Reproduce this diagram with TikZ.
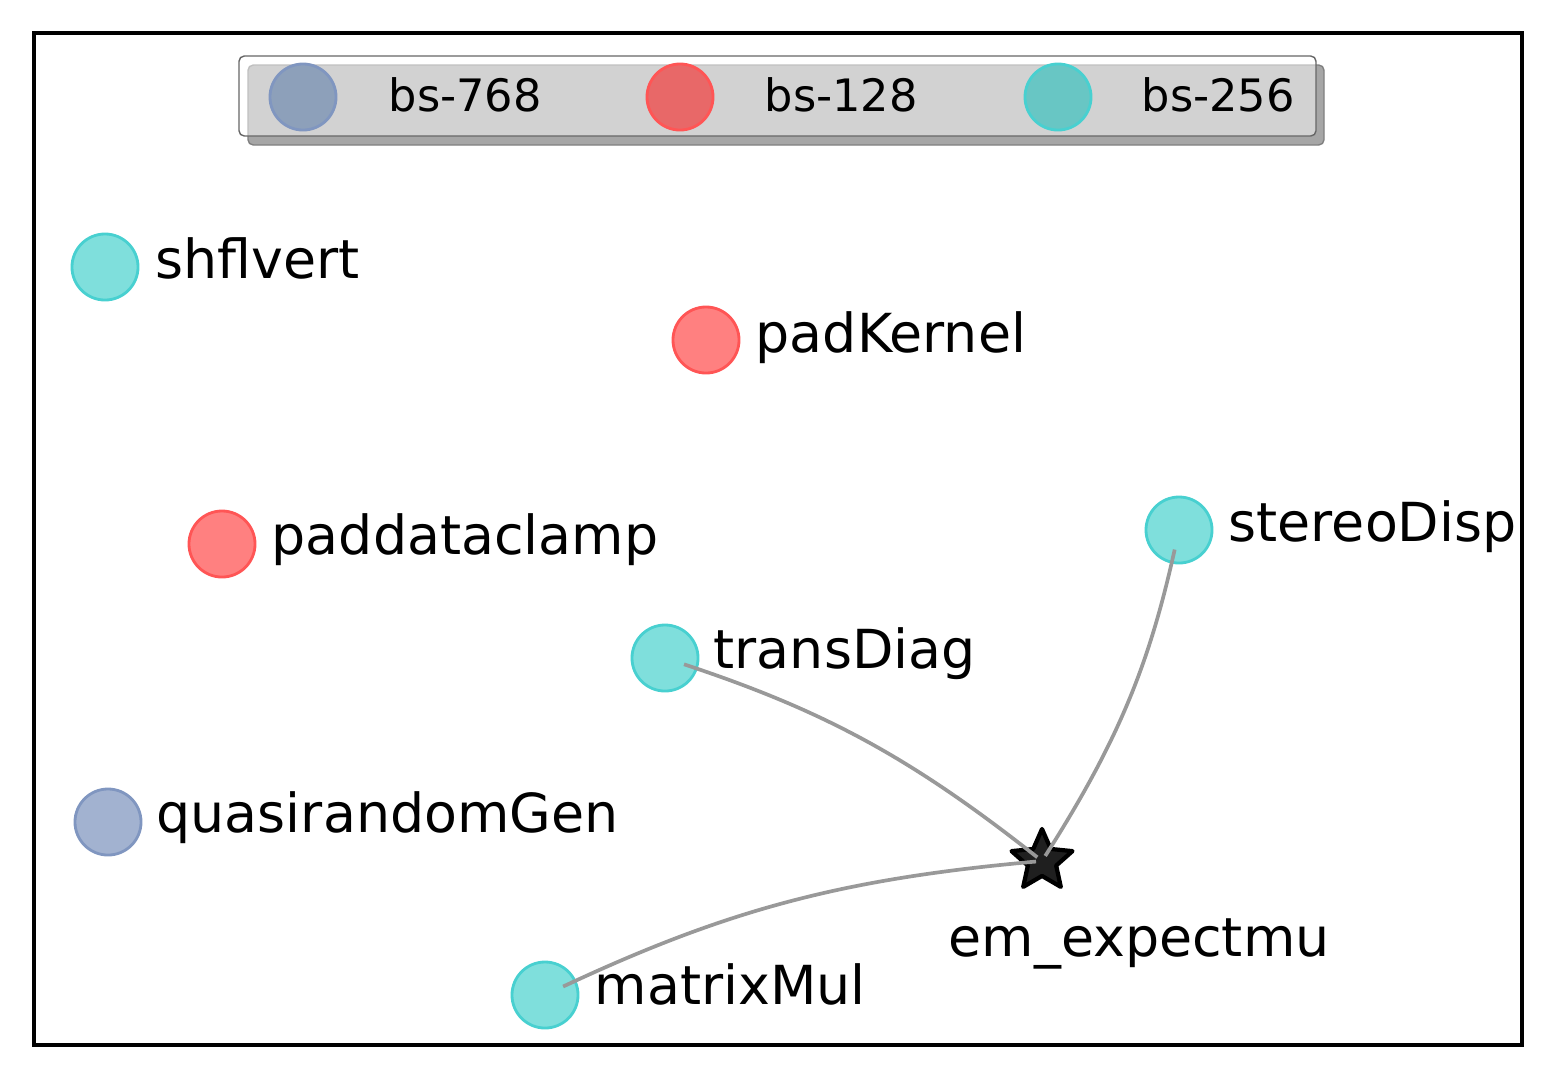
\documentclass[tikz,border=0pt]{standalone}
\usepackage{fontspec}
\setmainfont{DejaVu Sans}
\usepackage{xcolor}
\usepackage{tikz}
\usetikzlibrary{arrows.meta, positioning, shapes.geometric}

\definecolor{cyanfill}{RGB}{127,223,220}
\definecolor{cyanedge}{RGB}{72,208,208}
\definecolor{redfill}{RGB}{255,128,128}
\definecolor{rededge}{RGB}{255,85,85}
\definecolor{bluefill}{RGB}{162,178,208}
\definecolor{blueedge}{RGB}{128,150,192}
\definecolor{legblue}{RGB}{141,160,186}
\definecolor{legred}{RGB}{232,104,104}
\definecolor{legcyan}{RGB}{104,198,196}

\begin{document}
\begin{tikzpicture}[
  x=0.01cm, y=-0.01cm,
  kernel/.style={circle, draw, line width=0.8pt, minimum size=0.66cm, inner sep=0pt},
  bs768/.style={kernel, fill=bluefill, draw=blueedge},
  bs128/.style={kernel, fill=redfill, draw=rededge},
  bs256/.style={kernel, fill=cyanfill, draw=cyanedge},
  lbl/.style={anchor=base west, inner sep=0pt, font=\fontsize{15.3}{18}\selectfont},
  leglbl/.style={anchor=base west, inner sep=0pt, font=\fontsize{12.7}{15}\selectfont},
  link/.style={draw=black!40, line width=1.05pt, shorten <=0.2cm, shorten >=0.06cm}
]
  \useasboundingbox (0,0) rectangle (1555,1078);
  \draw[line width=1.4pt] (34,33) rectangle (1522,1045);

  % legend
  \draw[draw=black!50, fill=black!35, rounded corners=1.5pt] (248,65) rectangle (1324,145);
  \draw[draw=black!60, fill=white, fill opacity=0.5, rounded corners=1.5pt] (239,56) rectangle (1316,136);
  \node[kernel, fill=legblue, draw=blueedge] (k768) at (303,97) {};
  \node[kernel, fill=legred, draw=rededge] (k128) at (680,97) {};
  \node[kernel, fill=legcyan, draw=cyanedge] (k256) at (1058,97) {};
  \node[leglbl] (t768) at (388,111) {bs-768};
  \node[leglbl] (t128) at (764,111) {bs-128};
  \node[leglbl] (t256) at (1141,111) {bs-256};

  % kernels
  \node[bs256] (shfl) at (105,267) {};
  \node[bs128] (pad) at (706,340) {};
  \node[bs128] (clamp) at (222,544) {};
  \node[bs256] (stereo) at (1179,530) {};
  \node[bs256] (trans) at (665,658) {};
  \node[bs768] (quasi) at (108,822) {};
  \node[bs256] (mm) at (545,995) {};
  \node[star, star points=5, star point ratio=2.15, minimum size=0.64cm, inner sep=0pt,
        fill=black!88, draw=black, line width=1.2pt, line join=round] (em) at (1042,861) {};

  \draw[link, bend left=10] (mm.center) to (em.center);
  \draw[link, bend left=10] (trans.center) to (em.center);
  \draw[link, bend left=10] (stereo.center) to (em.center);

  \node[lbl] (shfllbl) at (155,278) {shflvert};
  \node[lbl] (padlbl) at (755,352) {padKernel};
  \node[lbl] (clamplbl) at (271,554) {paddataclamp};
  \node[lbl] (stereolbl) at (1228,541) {stereoDisp};
  \node[lbl] (translbl) at (713,668) {transDiag};
  \node[lbl] (quasilbl) at (156,832) {quasirandomGen};
  \node[lbl] (mmlbl) at (594,1004) {matrixMul};
  \node[lbl] (emlbl) at (948,956) {em\_expectmu};
\end{tikzpicture}
\end{document}
